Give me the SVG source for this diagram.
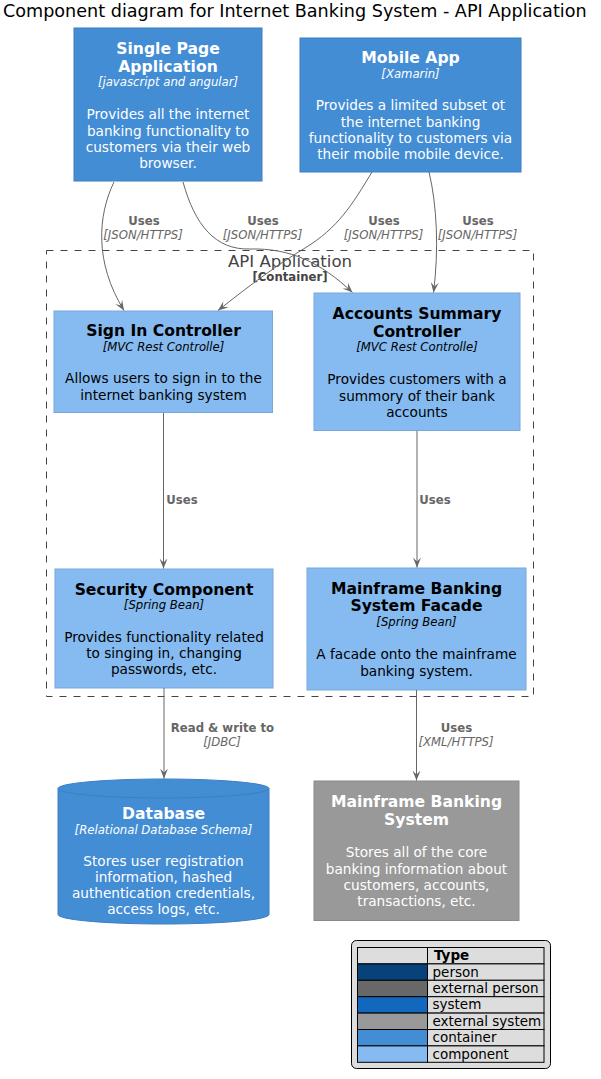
<svg xmlns="http://www.w3.org/2000/svg" width="601" height="1079" viewBox="0 0 601 1079">
<defs>
<style>
text{font-family:"DejaVu Sans","Liberation Sans",sans-serif}
.t{font-size:15.6px;font-weight:bold;text-anchor:middle}
.tech{font-size:11.7px;font-style:italic;text-anchor:middle}
.d{font-size:13.65px;text-anchor:middle}
.w{fill:#FFFFFF}
.k{fill:#000000}
.lbl{font-size:11.7px;font-weight:bold;fill:#666666;text-anchor:middle}
.lblt{font-size:11.7px;font-style:italic;fill:#666666;text-anchor:middle}
.cont{fill:#438DD5;stroke:#3C7FC0;stroke-width:1}
.comp{fill:#85BBF0;stroke:#78A8D8;stroke-width:1}
.ext{fill:#999999;stroke:#8A8A8A;stroke-width:1}
.conn{fill:none;stroke:#666666;stroke-width:1;marker-end:url(#arr)}
.cell{stroke:#000000;stroke-width:1}
.lg{font-size:13.5px;fill:#000000}
</style>
<marker id="arr" markerWidth="12" markerHeight="10" refX="10" refY="4" orient="auto" markerUnits="userSpaceOnUse" viewBox="0 0 12 10">
<path d="M0,0 L10,4 L0,8 L4,4 Z" fill="#666666"/>
</marker>
</defs>
<rect width="601" height="1079" fill="#FFFFFF"/>
<text x="3" y="17" style="font-size:17.6px">Component diagram for Internet Banking System - API Application</text>

<g id="boundary">
<rect x="46.5" y="250.5" width="487" height="446" fill="none" stroke="#444444" stroke-width="1" stroke-dasharray="7,7"/>
<text x="290" y="267" style="font-size:16.6px;fill:#444444;text-anchor:middle">API Application</text>
<text x="290" y="281" style="font-size:11.7px;font-weight:bold;fill:#444444;text-anchor:middle">[Container]</text>
</g>

<g id="spa">
<rect class="cont" x="74" y="28" width="188" height="153"/>
<text class="t w" x="168" y="54">Single Page</text>
<text class="t w" x="168" y="72">Application</text>
<text class="tech w" x="168" y="86">[javascript and angular]</text>
<text class="d w" x="168" y="119">Provides all the internet</text>
<text class="d w" x="168" y="135.5">banking functionality to</text>
<text class="d w" x="168" y="151.5">customers via their web</text>
<text class="d w" x="168" y="167.5">browser.</text>
</g>

<g id="mobile">
<rect class="cont" x="300" y="38" width="221" height="134"/>
<text class="t w" x="410.5" y="63">Mobile App</text>
<text class="tech w" x="410.5" y="77.5">[Xamarin]</text>
<text class="d w" x="410.5" y="110">Provides a limited subset ot</text>
<text class="d w" x="410.5" y="126.5">the internet banking</text>
<text class="d w" x="410.5" y="142.5">functionality to customers via</text>
<text class="d w" x="410.5" y="158.5">their mobile mobile device.</text>
</g>

<g id="signin">
<rect class="comp" x="54" y="311" width="218.5" height="101.5"/>
<text class="t k" x="163.5" y="336">Sign In Controller</text>
<text class="tech k" x="163.5" y="350.5">[MVC Rest Controlle]</text>
<text class="d k" x="163.5" y="383">Allows users to sign in to the</text>
<text class="d k" x="163.5" y="399.5">internet banking system</text>
</g>

<g id="accounts">
<rect class="comp" x="314" y="293" width="206" height="137.5"/>
<text class="t k" x="417" y="318.5">Accounts Summary</text>
<text class="t k" x="417" y="336.5">Controller</text>
<text class="tech k" x="417" y="351">[MVC Rest Controlle]</text>
<text class="d k" x="417" y="384">Provides customers with a</text>
<text class="d k" x="417" y="400.5">summory of their bank</text>
<text class="d k" x="417" y="417">accounts</text>
</g>

<g id="security">
<rect class="comp" x="55" y="569" width="218" height="119"/>
<text class="t k" x="164" y="594.5">Security Component</text>
<text class="tech k" x="164" y="609">[Spring Bean]</text>
<text class="d k" x="164" y="642">Provides functionality related</text>
<text class="d k" x="164" y="658">to singing in, changing</text>
<text class="d k" x="164" y="674">passwords, etc.</text>
</g>

<g id="facade">
<rect class="comp" x="307" y="568" width="219" height="122"/>
<text class="t k" x="416.5" y="593.5">Mainframe Banking</text>
<text class="t k" x="416.5" y="611">System Facade</text>
<text class="tech k" x="416.5" y="626">[Spring Bean]</text>
<text class="d k" x="416.5" y="659">A facade onto the mainframe</text>
<text class="d k" x="416.5" y="675.5">banking system.</text>
</g>

<g id="database">
<path class="cont" d="M58,788.5 A105.5,9.5 0 0 1 269,788.5 L269,914.5 A105.5,9.5 0 0 1 58,914.5 Z"/>
<path d="M58,788.5 A105.5,9.5 0 0 0 269,788.5" fill="none" stroke="#3C7FC0" stroke-width="1"/>
<text class="t w" x="163.5" y="818.5">Database</text>
<text class="tech w" x="163.5" y="833.5">[Relational Database Schema]</text>
<text class="d w" x="163.5" y="865.5">Stores user registration</text>
<text class="d w" x="163.5" y="881.5">information, hashed</text>
<text class="d w" x="163.5" y="897.5">authentication credentials,</text>
<text class="d w" x="163.5" y="913.5">access logs, etc.</text>
</g>

<g id="mainframe">
<rect class="ext" x="314" y="781" width="205" height="139.5"/>
<text class="t w" x="416.5" y="806.5">Mainframe Banking</text>
<text class="t w" x="416.5" y="824.5">System</text>
<text class="d w" x="416.5" y="857">Stores all of the core</text>
<text class="d w" x="416.5" y="873.5">banking information about</text>
<text class="d w" x="416.5" y="889.5">customers, accounts,</text>
<text class="d w" x="416.5" y="906">transactions, etc.</text>
</g>

<g id="connectors">
<path class="conn" d="M114,182 C98,215 94,262 124,310.5"/>
<path class="conn" d="M183,182 C195,225 215,250 250,249 C290,248 320,262 352.5,292.5"/>
<path class="conn" d="M372,172 C352,205 338,228 305,248 C280,263 250,285 218,310.5"/>
<path class="conn" d="M429,172 C437,205 439,250 433.5,292.5"/>
<path class="conn" d="M163.5,413 L163.5,568.5"/>
<path class="conn" d="M417,431 L417,567.5"/>
<path class="conn" d="M164,688 L164,778.5"/>
<path class="conn" d="M416.5,690 L416.5,780.5"/>
<text class="lbl" x="144" y="225">Uses</text>
<text class="lblt" x="143" y="238.5">[JSON/HTTPS]</text>
<text class="lbl" x="263" y="225">Uses</text>
<text class="lblt" x="262.5" y="238.5">[JSON/HTTPS]</text>
<text class="lbl" x="384" y="225">Uses</text>
<text class="lblt" x="383.5" y="238.5">[JSON/HTTPS]</text>
<text class="lbl" x="478" y="225">Uses</text>
<text class="lblt" x="477.5" y="238.5">[JSON/HTTPS]</text>
<text class="lbl" x="182" y="503.5">Uses</text>
<text class="lbl" x="435" y="503.5">Uses</text>
<text class="lbl" x="222.5" y="731.5">Read &amp; write to</text>
<text class="lblt" x="222" y="745.5">[JDBC]</text>
<text class="lbl" x="456.5" y="731.5">Uses</text>
<text class="lblt" x="456" y="745.5">[XML/HTTPS]</text>
</g>

<g id="legend">
<rect x="351.5" y="940.5" width="199" height="128" rx="5" ry="5" fill="#DDDDDD" stroke="#000000" stroke-width="1"/>
<rect class="cell" x="357.5" y="947.5" width="70" height="16.4" fill="#DDDDDD"/>
<rect class="cell" x="427.5" y="947.5" width="116.5" height="16.4" fill="#DDDDDD"/>
<rect class="cell" x="357.5" y="963.9" width="70" height="16.4" fill="#08427B"/>
<rect class="cell" x="427.5" y="963.9" width="116.5" height="16.4" fill="#DDDDDD"/>
<rect class="cell" x="357.5" y="980.3" width="70" height="16.4" fill="#686868"/>
<rect class="cell" x="427.5" y="980.3" width="116.5" height="16.4" fill="#DDDDDD"/>
<rect class="cell" x="357.5" y="996.7" width="70" height="16.4" fill="#1168BD"/>
<rect class="cell" x="427.5" y="996.7" width="116.5" height="16.4" fill="#DDDDDD"/>
<rect class="cell" x="357.5" y="1013.1" width="70" height="16.4" fill="#999999"/>
<rect class="cell" x="427.5" y="1013.1" width="116.5" height="16.4" fill="#DDDDDD"/>
<rect class="cell" x="357.5" y="1029.5" width="70" height="16.4" fill="#438DD5"/>
<rect class="cell" x="427.5" y="1029.5" width="116.5" height="16.4" fill="#DDDDDD"/>
<rect class="cell" x="357.5" y="1045.9" width="70" height="16.4" fill="#85BBF0"/>
<rect class="cell" x="427.5" y="1045.9" width="116.5" height="16.4" fill="#DDDDDD"/>
<text class="lg" x="434" y="960" style="font-weight:bold">Type</text>
<text class="lg" x="432.5" y="976.5">person</text>
<text class="lg" x="432.5" y="992.9">external person</text>
<text class="lg" x="432.5" y="1009.3">system</text>
<text class="lg" x="432.5" y="1025.7">external system</text>
<text class="lg" x="432.5" y="1042.1">container</text>
<text class="lg" x="432.5" y="1058.5">component</text>
</g>
</svg>
